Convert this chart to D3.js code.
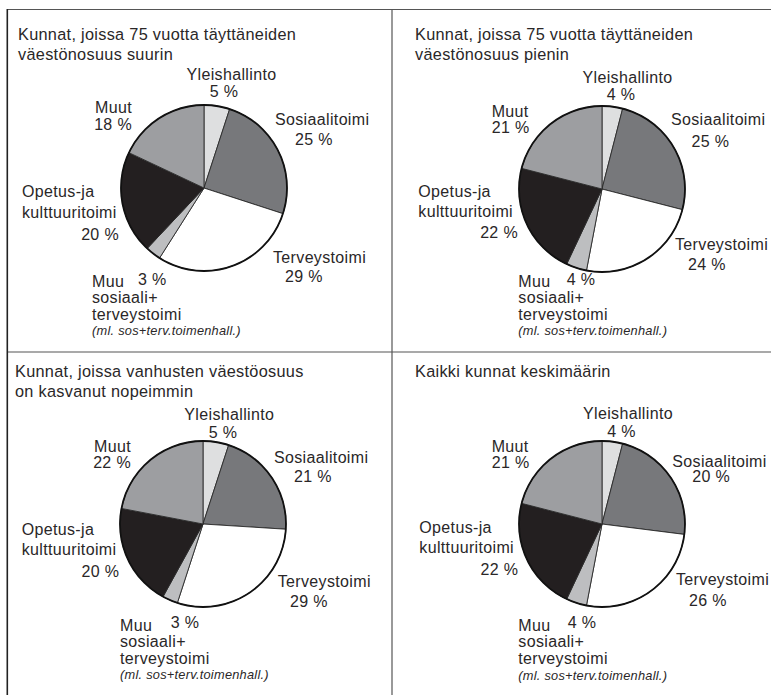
<!DOCTYPE html>
<html>
<head>
<meta charset="utf-8">
<script src="https://cdn.jsdelivr.net/npm/d3@7/dist/d3.min.js"></script>
<style>
  html, body { margin: 0; padding: 0; background: #fff; }
  svg { display: block; }
  text { font-family: "Liberation Sans", Arial, Helvetica, sans-serif; fill: #2a2728; }
</style>
</head>
<body>
<svg id="chart" width="771" height="695"></svg>
<script>
// ---- data ----
const categories = ["Yleishallinto", "Sosiaalitoimi", "Terveystoimi",
  "Muu sosiaali+terveystoimi", "Opetus-ja kulttuuritoimi", "Muut"];
const panelTitles = [
  ["Kunnat, joissa 75 vuotta täyttäneiden", "väestönosuus suurin"],
  ["Kunnat, joissa 75 vuotta täyttäneiden", "väestönosuus pienin"],
  ["Kunnat, joissa vanhusten väestöosuus", "on kasvanut nopeimmin"],
  ["Kaikki kunnat keskimäärin"]
];
// slice sizes (%) as drawn
const valuesSuurin   = [5, 25, 29, 3, 20, 18];
const valuesPienin   = [4, 25, 24, 4, 22, 21];
const valuesKasvanut = [5, 21, 29, 3, 20, 22];
const valuesKaikki   = [4, 23, 26, 4, 22, 21];
// printed percentage labels
const labelsSuurin   = [5, 25, 29, 3, 20, 18];
const labelsPienin   = [4, 25, 24, 4, 22, 21];
const labelsKasvanut = [5, 21, 29, 3, 20, 22];
const labelsKaikki   = [4, 20, 26, 4, 22, 21];
const noteText = "(ml. sos+terv.toimenhall.)";

const colors = ["#dedfe0", "#77787b", "#ffffff", "#bdbec0", "#231f20", "#9d9ea1"];

// ---- layout ----
const panels = [
  { values: valuesSuurin, labels: labelsSuurin, cx: 204, cy: 188,
    title: [18, 40, 60],
    pos: {
      y: [[231.5, 80, "middle"], [224, 97, "middle"]],
      s: [[275, 125, "start"], [295, 145, "start"]],
      t: [[273, 263, "start"], [285, 282, "start"]],
      m: [92, 286.8, 138, 285, 302.6, 320, 334.5],
      o: [22, 197, 218, 119, 240],
      u: [[132, 113, "end"], [132, 130, "end"]]
    } },
  { values: valuesPienin, labels: labelsPienin, cx: 602, cy: 189,
    title: [415, 40, 60],
    pos: {
      y: [[627.5, 83, "middle"], [621, 100, "middle"]],
      s: [[671, 125, "start"], [691.5, 147, "start"]],
      t: [[675, 250, "start"], [688, 270, "start"]],
      m: [518.3, 286.8, 566.7, 285, 302.6, 320, 335],
      o: [418.3, 197, 217, 518, 238],
      u: [[491.7, 117, "start"], [491.7, 133, "start"]]
    } },
  { values: valuesKasvanut, labels: labelsKasvanut, cx: 203, cy: 524,
    title: [15, 377, 397],
    pos: {
      y: [[229.3, 420, "middle"], [223, 437.7, "middle"]],
      s: [[274, 463.3, "start"], [294, 482.3, "start"]],
      t: [[277.7, 586.7, "start"], [290, 606.7, "start"]],
      m: [120, 631.2, 170.7, 628, 647.2, 663.6, 679.3],
      o: [21.7, 535, 555, 119.3, 576.7],
      u: [[131, 451.7, "end"], [131, 468.3, "end"]]
    } },
  { values: valuesKaikki, labels: labelsKaikki, cx: 602, cy: 524,
    title: [415, 377, 397],
    pos: {
      y: [[628, 419, "middle"], [621.5, 436.7, "middle"]],
      s: [[672.3, 466.7, "start"], [692.3, 482.3, "start"]],
      t: [[676, 585, "start"], [689, 605.7, "start"]],
      m: [518.3, 631.2, 567.7, 628.3, 647.2, 663.6, 680],
      o: [419.3, 533.3, 553.3, 518.3, 575],
      u: [[491.7, 452, "start"], [491.7, 468, "start"]]
    } }
];

const R = 83;
const FS = 16, LS = 0.35;
const svg = d3.select("#chart");

// frame lines
const frame = svg.append("g").attr("fill", "none");
frame.append("line").attr("x1", 7).attr("x2", 771).attr("y1", 9.5).attr("y2", 9.5)
  .attr("stroke", "#555").attr("stroke-width", 1.2);
frame.append("line").attr("x1", 7).attr("x2", 771).attr("y1", 352).attr("y2", 352)
  .attr("stroke", "#555").attr("stroke-width", 1.2);
frame.append("line").attr("x1", 7.3).attr("x2", 7.3).attr("y1", 9).attr("y2", 695)
  .attr("stroke", "#222").attr("stroke-width", 1.6);
frame.append("line").attr("x1", 392).attr("x2", 392).attr("y1", 9).attr("y2", 695)
  .attr("stroke", "#555").attr("stroke-width", 1.2);

const pie = d3.pie().sort(null).value(d => d);
const arc = d3.arc().innerRadius(0).outerRadius(R);

function txt(g, s, x, y, anchor, opts = {}) {
  return g.append("text")
    .attr("x", x).attr("y", y)
    .attr("text-anchor", anchor || "start")
    .attr("font-size", opts.size || FS)
    .attr("letter-spacing", opts.ls !== undefined ? opts.ls : LS)
    .attr("font-style", opts.italic ? "italic" : "normal")
    .text(s);
}

panels.forEach((p, i) => {
  const g = svg.append("g");
  // title
  panelTitles[i].forEach((line, k) => {
    txt(g, line, p.title[0], p.title[1 + k], "start", { size: 16.3, ls: 0.3 });
  });
  // pie
  const pg = g.append("g").attr("transform", `translate(${p.cx},${p.cy})`);
  pg.selectAll("path.slice")
    .data(pie(p.values))
    .join("path")
    .attr("class", "slice")
    .attr("d", arc)
    .attr("fill", (d, j) => colors[j])
    .attr("stroke", "#2a2a2a")
    .attr("stroke-width", 0.9)
    .attr("stroke-linejoin", "round");
  pg.append("circle").attr("r", R).attr("fill", "none")
    .attr("stroke", "#111").attr("stroke-width", 1.8);

  // labels
  const pct = j => `${p.labels[j]} %`;
  const L = p.pos;
  txt(g, categories[0], L.y[0][0], L.y[0][1], L.y[0][2]);
  txt(g, pct(0), L.y[1][0], L.y[1][1], L.y[1][2]);
  txt(g, categories[1], L.s[0][0], L.s[0][1], L.s[0][2]);
  txt(g, pct(1), L.s[1][0], L.s[1][1], L.s[1][2]);
  txt(g, categories[2], L.t[0][0], L.t[0][1], L.t[0][2]);
  txt(g, pct(2), L.t[1][0], L.t[1][1], L.t[1][2]);
  // Muu sosiaali+terveystoimi
  const m = L.m;
  const muuParts = ["Muu", "sosiaali+", "terveystoimi"];
  txt(g, muuParts[0], m[0], m[1], "start");
  txt(g, pct(3), m[2], m[3], "start");
  txt(g, muuParts[1], m[0], m[4], "start");
  txt(g, muuParts[2], m[0], m[5], "start");
  txt(g, noteText, m[0], m[6], "start", { size: 12.8, italic: true, ls: 0.25 });
  // Opetus-ja kulttuuritoimi
  const o = L.o;
  txt(g, "Opetus-ja", o[0], o[1], "start");
  txt(g, "kulttuuritoimi", o[0], o[2], "start");
  txt(g, pct(4), o[3], o[4], "end");
  // Muut
  txt(g, categories[5], L.u[0][0], L.u[0][1], L.u[0][2]);
  txt(g, pct(5), L.u[1][0], L.u[1][1], L.u[1][2]);
});
</script>
</body>
</html>
